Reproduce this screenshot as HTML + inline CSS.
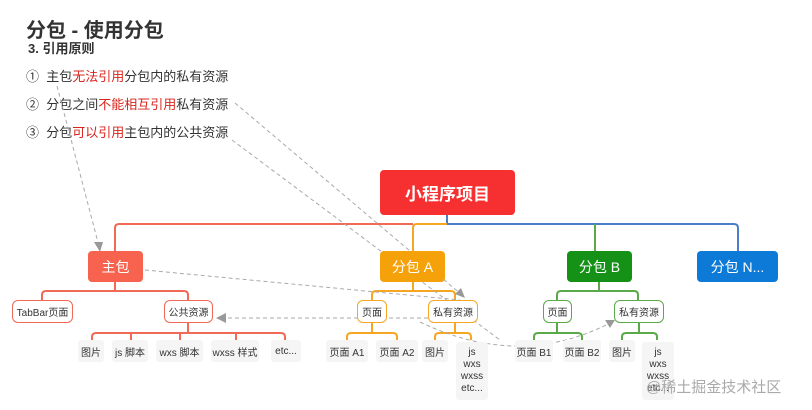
<!DOCTYPE html>
<html><head><meta charset="utf-8"><style>
body{margin:0;background:#fff;width:812px;height:410px;overflow:hidden;font-family:"Liberation Sans","Noto Sans CJK SC",sans-serif;position:relative}
.t{position:absolute;white-space:nowrap}
.b{position:absolute;box-sizing:border-box;display:flex;align-items:center;justify-content:center;font-size:10px;color:#333;white-space:nowrap}
.m{color:#fff;border-radius:4px;font-size:14px}
.o{background:#fff;border:1.5px solid;border-radius:6px}
.l{background:#f5f5f5;border-radius:3px}
.r{color:#d9241c}
</style></head><body>
<div class="t" style="left:26px;top:14px;font-size:20px;font-weight:bold;color:#333">分包 - 使用分包</div>
<div class="t" style="left:28px;top:38px;font-size:13px;font-weight:bold;color:#333">3. 引用原则</div>
<div class="t" style="left:26px;top:66px;font-size:13px;color:#333">①&nbsp;&nbsp;主包<span class="r">无法引用</span>分包内的私有资源</div>
<div class="t" style="left:26px;top:94px;font-size:13px;color:#333">②&nbsp;&nbsp;分包之间<span class="r">不能相互引用</span>私有资源</div>
<div class="t" style="left:26px;top:122px;font-size:13px;color:#333">③&nbsp;&nbsp;分包<span class="r">可以引用</span>主包内的公共资源</div>

<svg width="812" height="410" style="position:absolute;left:0;top:0" fill="none" stroke-width="2">
<path d="M447 215V224" stroke="#4a7fc8"/>
<path d="M115 251V228q0-4 4-4H413" stroke="#f06a55"/>
<path d="M413 251V228q0-4 4-4H447" stroke="#f5a623"/>
<path d="M447 224H734q4 0 4 4V251M595 224V251" stroke="#4a7fc8"/>
<path d="M595 224V251" stroke="#5aaa4a"/>
<path d="M115 282V291M42 300V295q0-4 4-4H184q4 0 4 4V300M188 323V333M92 340V337q0-4 4-4H281q4 0 4 4V340M131 333V340M180 333V340M236 333V340" stroke="#f06a55"/>
<path d="M413 282V291M372 300V295q0-4 4-4H451q4 0 4 4V300M372 323V333M347 340V337q0-4 4-4H393q4 0 4 4V340M455 323V333M435 340V337q0-4 4-4H467q4 0 4 4V340" stroke="#f5a623"/>
<path d="M599 282V291M557 300V295q0-4 4-4H634q4 0 4 4V300M557 323V333M534 340V337q0-4 4-4H578q4 0 4 4V340M639 323V333M622 340V337q0-4 4-4H653q4 0 4 4V340" stroke="#5aaa4a"/>
<g stroke="#aaa" stroke-width="1" stroke-dasharray="4 3">
<path d="M57 86L100 250"/>
<path d="M235 103L462 295"/>
<path d="M232 140L500 340"/>
<path d="M145 270L460 300"/>
<path d="M428 318L220 318"/>
<path d="M420 322Q520 370 612 322"/>
</g>
<g fill="#999">
<path d="M100 252l-6-10 9 0z"/>
<path d="M465 298l-10-4 6-6z"/>
<path d="M216 318l10-5v10z"/>
<path d="M615 320l-10 0 5 8z"/>
</g>
</svg>

<div class="b m" style="left:380px;top:170px;width:135px;height:45px;background:#f63030;font-size:17px;font-weight:bold">小程序项目</div>
<div class="b m" style="left:88px;top:251px;width:55px;height:31px;background:#f7634f">主包</div>
<div class="b m" style="left:380px;top:251px;width:65px;height:31px;background:#f5a10a">分包 A</div>
<div class="b m" style="left:567px;top:251px;width:65px;height:31px;background:#169118">分包 B</div>
<div class="b m" style="left:697px;top:251px;width:81px;height:31px;background:#0c7ad6">分包 N...</div>

<div class="b o" style="left:12px;top:300px;width:61px;height:23px;border-color:#f06a55">TabBar页面</div>
<div class="b o" style="left:164px;top:300px;width:49px;height:23px;border-color:#f06a55">公共资源</div>
<div class="b l" style="left:78px;top:340px;width:26px;height:22px">图片</div>
<div class="b l" style="left:112px;top:340px;width:36px;height:22px">js 脚本</div>
<div class="b l" style="left:156px;top:340px;width:47px;height:22px">wxs 脚本</div>
<div class="b l" style="left:211px;top:340px;width:48px;height:22px">wxss 样式</div>
<div class="b l" style="left:271px;top:340px;width:30px;height:22px">etc...</div>

<div class="b o" style="left:357px;top:300px;width:30px;height:23px;border-color:#f5a623">页面</div>
<div class="b o" style="left:428px;top:300px;width:50px;height:23px;border-color:#f5a623">私有资源</div>
<div class="b l" style="left:326px;top:340px;width:42px;height:22px">页面 A1</div>
<div class="b l" style="left:376px;top:340px;width:42px;height:22px">页面 A2</div>
<div class="b l" style="left:422px;top:340px;width:26px;height:22px">图片</div>
<div class="b l" style="left:456px;top:342px;width:32px;height:58px;line-height:12px;text-align:center;white-space:normal">js<br>wxs<br>wxss<br>etc...</div>

<div class="b o" style="left:543px;top:300px;width:29px;height:23px;border-color:#5aaa4a">页面</div>
<div class="b o" style="left:614px;top:300px;width:50px;height:23px;border-color:#5aaa4a">私有资源</div>
<div class="b l" style="left:515px;top:340px;width:38px;height:22px">页面 B1</div>
<div class="b l" style="left:563px;top:340px;width:38px;height:22px">页面 B2</div>
<div class="b l" style="left:609px;top:340px;width:26px;height:22px">图片</div>
<div class="b l" style="left:642px;top:342px;width:32px;height:58px;line-height:12px;text-align:center;white-space:normal">js<br>wxs<br>wxss<br>etc...</div>

<div class="t" style="left:646px;top:376px;font-size:15px;color:#aaa">@稀土掘金技术社区</div>
</body></html>
